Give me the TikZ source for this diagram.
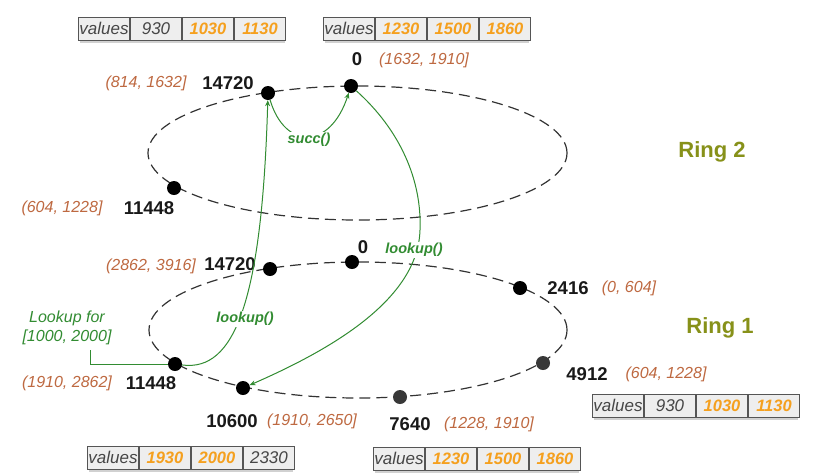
\documentclass[tikz,border=0pt]{standalone}
\usepackage{fontspec}
\setmainfont{Liberation Sans}
\usetikzlibrary{arrows.meta}
\definecolor{rng}{RGB}{190,105,65}
\definecolor{grn}{RGB}{50,140,50}
\definecolor{org}{RGB}{245,160,30}
\definecolor{olv}{RGB}{135,145,25}
\definecolor{cellfill}{RGB}{238,238,238}
\definecolor{celldraw}{RGB}{85,85,85}
\definecolor{txtgray}{RGB}{70,70,70}
\tikzset{
 ringdot/.style={circle, fill=black, minimum size=14pt, inner sep=0pt},
 ringdotgray/.style={ringdot, fill=black!78},
 numlbl/.style={font=\fontsize{18.5}{20}\selectfont\bfseries, text=black!90, inner sep=0pt},
 rangelbl/.style={font=\fontsize{16}{18}\selectfont\itshape, text=rng, inner sep=0pt},
 ringlbl/.style={font=\fontsize{22}{24}\selectfont\bfseries, text=olv, inner sep=0pt},
 ringline/.style={draw=black!80, line width=1.2pt, dash pattern=on 11pt off 6pt},
 garrow/.style={draw=grn, line width=1pt, -{Stealth[length=6pt,width=5pt]}},
 gline/.style={draw=grn, line width=1pt},
 glabel/.style={font=\fontsize{14.5}{16}\selectfont\bfseries\itshape, text=grn, fill=white, inner sep=1pt},
 notelbl/.style={font=\fontsize{16}{19}\selectfont\itshape, text=grn, align=center, inner sep=0pt},
 cellbox/.style={draw=celldraw, fill=cellfill, line width=1pt, minimum width=51pt, minimum height=23pt, inner sep=0pt, anchor=west, font=\fontsize{17}{18}\selectfont\itshape, text=txtgray},
 hotbox/.style={cellbox, text=org, font=\fontsize{16.5}{18}\selectfont\bfseries\itshape},
 boxshadow/.style={fill=black!18},
}
\begin{document}
\begin{tikzpicture}[x=1pt,y=-1pt]
\useasboundingbox (0,0) rectangle (821,472);
\fill[white] (0,0) rectangle (821,472);

% rings
\draw[ringline] (357.5,153) ellipse [x radius=209.5pt, y radius=67pt];
\draw[ringline] (358,330) ellipse [x radius=209pt, y radius=68pt];

% ring 2 nodes
\node[ringdot] (b14720) at (268,93) {};
\node[ringdot] (b0) at (351,86) {};
\node[ringdot] (b11448) at (174,188) {};
% ring 1 nodes
\node[ringdot] (a14720) at (270,269) {};
\node[ringdot] (a0) at (352,262) {};
\node[ringdot] (a2416) at (520,288) {};
\node[ringdotgray] (a4912) at (543,363) {};
\node[ringdotgray] (a7640) at (400,397) {};
\node[ringdot] (a10600) at (243,388) {};
\node[ringdot] (a11448) at (175,364) {};

% ring 2 labels
\node[numlbl] (lb14720) at (228,83) {14720};
\node[rangelbl] (rb14720) at (146,83) {(814, 1632]};
\node[numlbl] (lb0) at (357,59) {0};
\node[rangelbl] (rb0) at (424,60) {(1632, 1910]};
\node[numlbl] (lb11448) at (149,208) {11448};
\node[rangelbl] (rb11448) at (62,208) {(604, 1228]};
\node[ringlbl] (ring2) at (712,152) {Ring 2};

% ring 1 labels
\node[numlbl] (la14720) at (230,264) {14720};
\node[rangelbl] (ra14720) at (151,266) {(2862, 3916]};
\node[numlbl] (la0) at (363,247) {0};
\node[numlbl] (la2416) at (568,288) {2416};
\node[rangelbl] (ra2416) at (629,288) {(0, 604]};
\node[numlbl] (la4912) at (587,374) {4912};
\node[rangelbl] (ra4912) at (666,374) {(604, 1228]};
\node[numlbl] (la7640) at (410,424) {7640};
\node[rangelbl] (ra7640) at (489,424) {(1228, 1910]};
\node[numlbl] (la10600) at (232,421) {10600};
\node[rangelbl] (ra10600) at (312,421) {(1910, 2650]};
\node[numlbl] (la11448) at (151,383) {11448};
\node[rangelbl] (ra11448) at (67,383) {(1910, 2862]};
\node[ringlbl] (ring1) at (720,328) {Ring 1};

% green connectors
\draw[garrow] (b14720) .. controls (285,150) and (330,150) .. (b0);
\node[glabel] (succ) at (309,140) {succ()};

\draw[garrow] (a11448) .. controls (235,372) and (262,300) .. (b14720);
\node[glabel] (lk1) at (245,319) {lookup()};

\draw[garrow] (b0) .. controls (400,130) and (422,180) .. (420,230)
  .. controls (418,300) and (330,350) .. (a10600);
\node[glabel] (lk2) at (414,250) {lookup()};

\node[notelbl] (lookfor) at (67,328) {Lookup for\\{}[1000, 2000]};
\coordinate (nstart) at (90,350);
\draw[gline] (nstart) |- (a11448);

% value boxes
% A
\fill[boxshadow] (80,19) rectangle (285,43);
\node[cellbox] (A1) at (78,28.5) {values};
\node[cellbox] (A2) at (A1.east) {930};
\node[hotbox] (A3) at (A2.east) {1030};
\node[hotbox] (A4) at (A3.east) {1130};
% B
\fill[boxshadow] (325,19) rectangle (529,43);
\node[cellbox] (B1) at (323,28.5) {values};
\node[hotbox] (B2) at (B1.east) {1230};
\node[hotbox] (B3) at (B2.east) {1500};
\node[hotbox] (B4) at (B3.east) {1860};
% C
\fill[boxshadow] (594,396) rectangle (798,420);
\node[cellbox] (C1) at (592,405.5) {values};
\node[cellbox] (C2) at (C1.east) {930};
\node[hotbox] (C3) at (C2.east) {1030};
\node[hotbox] (C4) at (C3.east) {1130};
% D
\fill[boxshadow] (89,448) rectangle (293,472);
\node[cellbox] (D1) at (87,457.5) {values};
\node[hotbox] (D2) at (D1.east) {1930};
\node[hotbox] (D3) at (D2.east) {2000};
\node[cellbox] (D4) at (D3.east) {2330};
% E
\fill[boxshadow] (375,449) rectangle (579,473);
\node[cellbox] (E1) at (373,458.5) {values};
\node[hotbox] (E2) at (E1.east) {1230};
\node[hotbox] (E3) at (E2.east) {1500};
\node[hotbox] (E4) at (E3.east) {1860};
\end{tikzpicture}
\end{document}
